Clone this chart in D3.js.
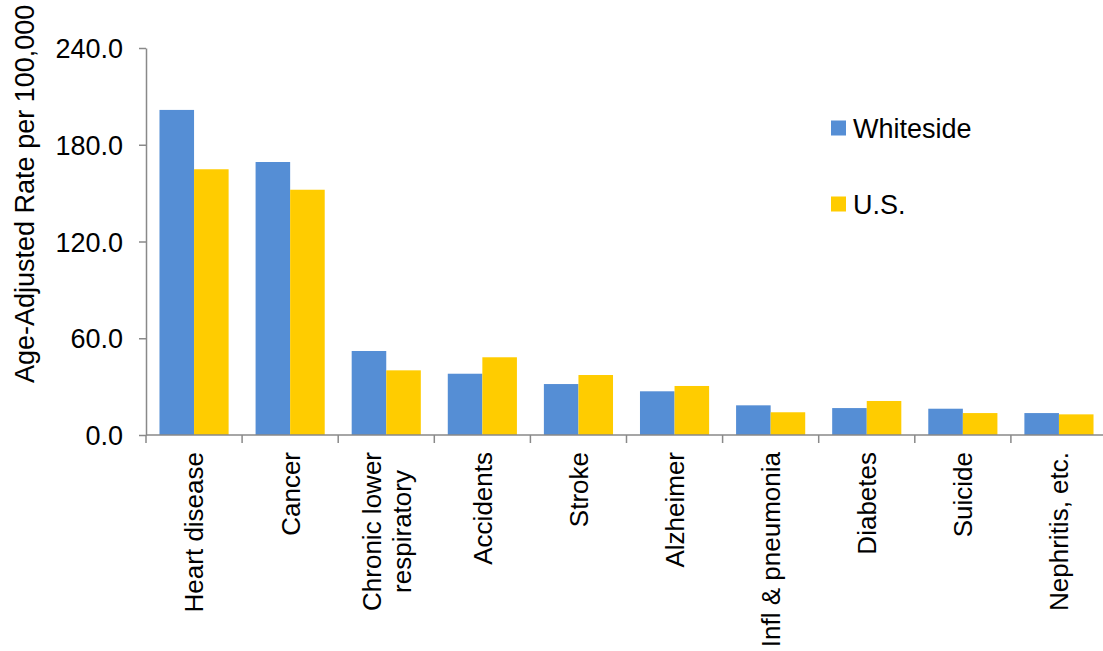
<!DOCTYPE html>
<html>
<head>
<meta charset="utf-8">
<script src="https://cdn.jsdelivr.net/npm/d3@7"></script>
<style>
  body { margin: 0; background: #fff; }
  text { font-family: "Liberation Sans", Arial, sans-serif; fill: #000; }
</style>
</head>
<body>
<svg id="drawing_region"></svg>
<script>
const categories = ["Heart disease", "Cancer", "Chronic lower\nrespiratory", "Accidents", "Stroke",
                    "Alzheimer", "Infl & pneumonia", "Diabetes", "Suicide", "Nephritis, etc."];
const series = ["Whiteside", "U.S."];
const whiteside = [201.6, 169.3, 52.1, 38.0, 31.6, 27.1, 18.4, 16.7, 16.3, 13.6];
const us = [164.8, 152.1, 40.1, 48.2, 37.2, 30.4, 14.1, 21.1, 13.6, 12.8];
const yTicks = [0, 60, 120, 180, 240];
const colors = ["#558ED5", "#FFCC00"];

class BarChart {
  constructor( config ) {
    this.config = config;
    this.init();
  }
  init() {
    let self = this;
    self.svg = d3.select( self.config.parent )
      .attr('width', self.config.width)
      .attr('height', self.config.height);

    self.x = d3.scaleBand()
      .domain( categories )
      .range( [146, 1107] )
      .padding( 0 );
    self.x1 = d3.scaleBand()
      .domain( series )
      .range( [0, self.x.bandwidth()] )
      .paddingInner( 0 )
      .paddingOuter( 0.39 );
    self.y = d3.scaleLinear()
      .domain( [0, 240] )
      .range( [435, 48] );
  }
  render() {
    let self = this;
    const rows = categories.map( (c, i) => ({ cat: c, vals: [whiteside[i], us[i]] }) );

    // bars
    const g = self.svg.append('g').selectAll('g')
      .data( rows )
      .join('g')
      .attr('transform', d => `translate(${self.x(d.cat)},0)`);
    g.selectAll('rect')
      .data( d => d.vals.map( (v, j) => ({ s: series[j], v: v, j: j }) ) )
      .join('rect')
      .attr('x', d => self.x1(d.s))
      .attr('width', self.x1.bandwidth())
      .attr('y', d => self.y(d.v))
      .attr('height', d => self.y(0) - self.y(d.v))
      .attr('fill', d => colors[d.j]);

    // y axis
    const yAxis = self.svg.append('g')
      .attr('transform', `translate(146,0)`)
      .call( d3.axisLeft(self.y).tickValues(yTicks).tickSize(7).tickSizeOuter(0)
        .tickPadding(16).tickFormat(d3.format(".1f")) );
    yAxis.selectAll('path, line').attr('stroke', '#898989').attr('stroke-width', 1.5);
    yAxis.selectAll('text').style('font-size', '27px').attr('dy', '0.36em');

    // x axis
    const xg = self.svg.append('g');
    const xr = self.x.range();
    xg.append('line')
      .attr('x1', xr[0]).attr('x2', xr[1])
      .attr('y1', self.y(0)).attr('y2', self.y(0))
      .attr('stroke', '#898989').attr('stroke-width', 1.5);
    const edges = categories.map( c => self.x(c) ).concat( [xr[1]] );
    xg.selectAll('.tick')
      .data( edges )
      .join('line')
      .attr('x1', d => d).attr('x2', d => d)
      .attr('y1', self.y(0)).attr('y2', self.y(0) + 8)
      .attr('stroke', '#898989').attr('stroke-width', 1.5);

    // category labels (rotated, block anchored below axis, lines centred)
    const top = 452;
    categories.forEach( c => {
      const lines = c.split('\n');
      const cx = self.x(c) + self.x.bandwidth() / 2;
      const t = xg.append('g');
      const texts = lines.map( (ln, k) => t.append('text')
        .style('font-size', '26px')
        .attr('text-anchor', 'middle')
        .text(ln) );
      const lens = texts.map( tx => tx.node().getComputedTextLength() );
      const maxLen = d3.max( lens );
      const lh = 30;
      texts.forEach( (tx, k) => {
        const off = (k - (lines.length - 1) / 2) * lh;
        tx.attr('transform', `translate(${cx + off},${top + maxLen / 2}) rotate(-90)`)
          .attr('dy', '0.36em');
      });
    });

    // y title
    self.svg.append('text')
      .attr('transform', `translate(24,383) rotate(-90)`)
      .attr('dy', '0.36em')
      .style('font-size', '27px')
      .text('Age-Adjusted Rate per 100,000');

    // legend
    const lg = self.svg.append('g');
    const ly = [128, 204];
    series.forEach( (s, i) => {
      lg.append('rect')
        .attr('x', 831).attr('y', ly[i] - 7.5)
        .attr('width', 15).attr('height', 15)
        .attr('fill', colors[i]);
      lg.append('text')
        .attr('x', 853).attr('y', ly[i])
        .attr('dy', '0.36em')
        .style('font-size', '27px')
        .text(s);
    });
  }
}

const chart = new BarChart({ parent: '#drawing_region', width: 1103, height: 651 });
chart.render();
</script>
</body>
</html>
